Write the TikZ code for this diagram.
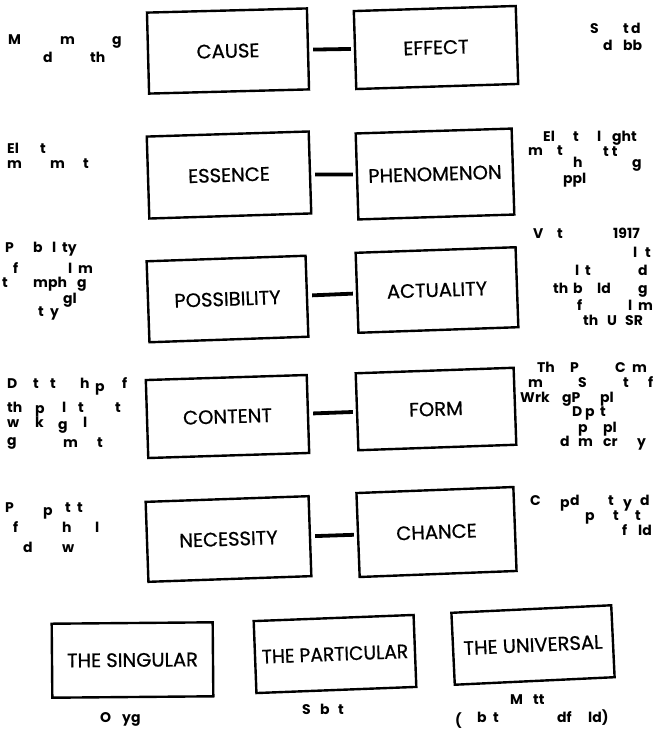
\documentclass[tikz,border=0pt]{standalone}
\usepackage{fontspec}
\setmainfont{Poppins}
\newfontfamily\labfont{Poppins}[FakeBold=0.7]
\begin{document}
\begin{tikzpicture}[x=1pt,y=-1pt,
  box/.style={draw=black,line width=2.4pt,minimum width=160pt,minimum height=80pt,
    inner sep=0pt,font=\labfont\fontsize{19.5}{22}\selectfont,fill=white},
  link/.style={line width=3.8pt,shorten <=4pt,shorten >=3pt},
  frag/.style={anchor=base west,inner sep=0pt,font=\fontsize{14}{16}\selectfont\bfseries}]
\useasboundingbox[fill=white] (0,0) rectangle (657,732);

\node[box,rotate=1.5,minimum width=160pt,minimum height=81pt] (cause) at (228,51) {CAUSE};
\node[box,rotate=1.8,minimum width=162pt,minimum height=78pt] (effect) at (436,47.5) {EFFECT};
\node[box,rotate=1.8,minimum width=162pt,minimum height=82pt] (essence) at (229,175) {ESSENCE};
\node[box,rotate=1.8,minimum width=156pt,minimum height=86pt] (phen) at (435,174) {PHENOMENON};
\node[box,rotate=2,minimum width=159pt,minimum height=81pt] (poss) at (227.5,299) {POSSIBILITY};
\node[box,rotate=2,minimum width=160pt,minimum height=80pt] (act) at (437,290) {ACTUALITY};
\node[box,rotate=1.8,minimum width=161pt,minimum height=78pt] (content) at (227.5,416.5) {CONTENT};
\node[box,rotate=2,minimum width=158pt,minimum height=77pt] (form) at (436,409) {FORM};
\node[box,rotate=2,minimum width=163pt,minimum height=80pt] (nec) at (228.5,539) {NECESSITY};
\node[box,rotate=2.2,minimum width=157pt,minimum height=84pt] (chance) at (436.5,532) {CHANCE};

\node[box,rotate=0.5,minimum width=161pt,minimum height=74pt] (sing) at (132.5,660) {THE SINGULAR};
\node[box,rotate=2.2,minimum width=160pt,minimum height=72pt] (part) at (335,654) {\scalebox{0.96}[1]{THE PARTICULAR}};
\node[box,rotate=2.7,minimum width=160pt,minimum height=72pt] (univ) at (533,645) {THE UNIVERSAL};

\draw[link] (cause) -- (effect);
\draw[link] (essence) -- (phen);
\draw[link] (poss) -- (act);
\draw[link] (content) -- (form);
\draw[link] (nec) -- (chance);

\foreach \x/\y/\t [count=\i] in {
  8/44/M, 60/44/m, 112/44/g, 43/62/d, 90/62/th,
  590/33/S, 623/33/{t\,d}, 603/50/d, 623/50/bb,
  7/153/El, 40/153/t, 7/168/m, 50/168/m, 83/168/t,
  543/141/El, 573/141/t, 597/141/l, 612/141/ght, 528/155/m, 557/155/t, 603/156/{t t}, 573/167/h, 632/167/g, 563/183/ppl,
  5/252/P, 33/252/b, 52/252/l, 62/252/ty, 13/273/f, 68/273/l, 78/273/m, 2/287/t, 33/287/mph, 77/287/g, 63/303/gl, 38/316/t, 50/316/y,
  533/238/V, 557/238/t, 613/238/1917, 633/257/l, 645/257/t, 575/275/l, 585/275/t, 638/275/d, 553/293/th, 573/293/b, 597/293/ld, 638/293/g, 577/310/f, 628/310/l, 638/310/m, 583/325/th, 607/325/U, 625/325/SR,
  7/388/D, 33/388/t, 50/388/t, 80/388/h, 95/391/p, 122/388/f, 7/412/th, 35/413/p, 62/412/l, 78/412/t, 115/412/t, 7/427/w, 35/427/k, 58/429/g, 83/427/l, 7/445/g, 63/447/m, 97/447/t,
  537/372/Th, 570/372/P, 615/372/C, 632/372/m, 528/387/m, 578/387/S, 623/387/t, 648/387/f, 520/402/W, 535/402/rk, 562/402/gP, 600/402/pl, 572/416/D, 585/416/p, 600/416/t, 578/432/p, 603/432/pl, 560/446/d, 578/446/m, 603/446/cr, 637/446/y,
  5/512/P, 43/515/p, 65/512/t, 77/512/t, 13/532/f, 62/532/h, 95/532/l, 23/552/d, 62/552/w,
  530/505/C, 560/507/p, 570/505/d, 608/505/t, 623/507/y, 640/505/d, 585/520/p, 613/520/t, 635/520/t, 622/535/f, 638/535/ld,
  100/722/O, 122/722/yg, 302/714/S, 320/714/b, 338/714/t,
  455/725/(, 477/722/b, 493/722/t, 510/704/M, 533/704/tt, 557/722/df, 588/722/{ld)}}
  \node[frag] (f\i) at (\x,\y) {\t};
\end{tikzpicture}
\end{document}
